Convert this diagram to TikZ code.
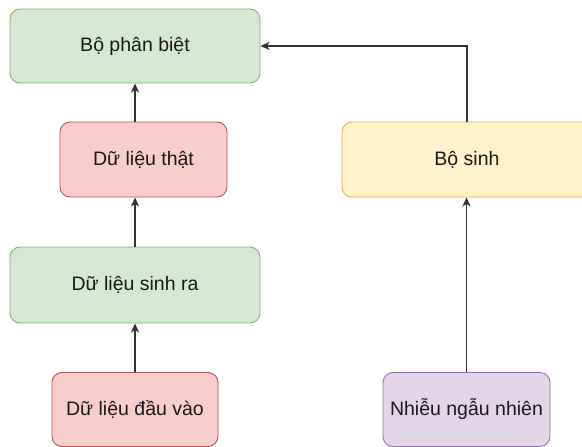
\documentclass[tikz,border=0pt]{standalone}
\usepackage{fontspec}
\setmainfont{Liberation Sans}
\usepackage{tikz}
\usetikzlibrary{arrows.meta,positioning,calc}
\usepackage{xcolor}

\definecolor{greenfill}{HTML}{D5E8D4}
\definecolor{greenline}{HTML}{82B366}
\definecolor{redfill}{HTML}{F8CECC}
\definecolor{redline}{HTML}{B85450}
\definecolor{yellowfill}{HTML}{FFF2CC}
\definecolor{yellowline}{HTML}{D6B656}
\definecolor{purplefill}{HTML}{E1D5E7}
\definecolor{purpleline}{HTML}{9673A6}

\begin{document}
\begin{tikzpicture}[x=1pt, y=-1pt,
    box/.style={rectangle, rounded corners=10pt, draw, line width=0.9pt, align=center,
        text=black!90, font=\fontsize{19.5}{23}\selectfont, inner sep=0pt},
    greenbox/.style={box, fill=greenfill, draw=greenline},
    redbox/.style={box, fill=redfill, draw=redline},
    yellowbox/.style={box, fill=yellowfill, draw=yellowline},
    purplebox/.style={box, fill=purplefill, draw=purpleline},
    arr/.style={-{Stealth[length=9pt, width=8pt, inset=2.5pt]}, line width=1.4pt, black!80}]
    \clip (0,0) rectangle (582,447);

    % Left column
    \node[greenbox, minimum width=250pt, minimum height=74pt] (disc) at (135, 46) {Bộ phân biệt};
    \node[redbox, minimum width=167pt, minimum height=75pt] (real) at (143.5, 159.5) {Dữ liệu thật};
    \node[greenbox, minimum width=250pt, minimum height=76pt] (fake) at (135, 285) {Dữ liệu sinh ra};
    \node[redbox, minimum width=166pt, minimum height=74pt] (input) at (135, 409.5) {Dữ liệu đầu vào};

    % Right column
    \node[yellowbox, minimum width=250pt, minimum height=75pt] (gen) at (467, 159.5) {Bộ sinh};
    \node[purplebox, minimum width=167pt, minimum height=74pt] (noise) at (466.5, 409.5) {Nhiễu ngẫu nhiên};

    % Connectors
    \draw[arr] (input.north) -- (fake.south);
    \draw[arr] (fake.north) -- (real.south -| fake.north);
    \draw[arr] (real.north -| fake.north) -- (disc.south);
    \draw[arr] (noise.north) -- (gen.south -| noise.north);
    \draw[arr] (gen.north) |- (disc.east);
\end{tikzpicture}
\end{document}
